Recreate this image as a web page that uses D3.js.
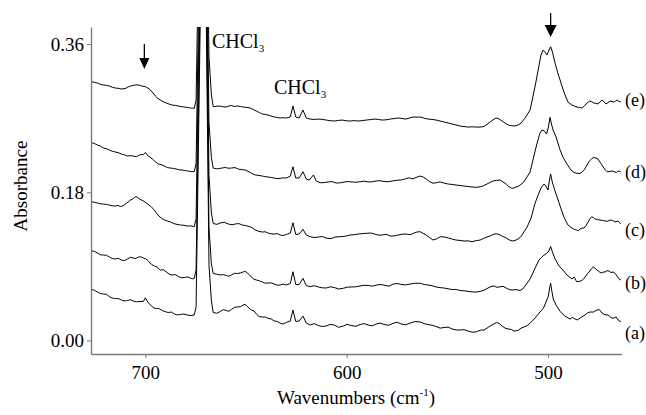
<!DOCTYPE html>
<html><head><meta charset="utf-8">
<script src="https://cdn.jsdelivr.net/npm/d3@7"></script>
<style>
body{margin:0;background:#fff}
svg{display:block}
text{font-family:"Liberation Serif","Times New Roman",Times,serif;fill:#000}
</style>
</head><body><svg id="chart" width="646" height="415"></svg>
<script>
// ---- data: wavenumber (cm-1), absorbance ----
const traceA = [[726.8,0.0619],[723.8,0.0589],[720.8,0.0565],[717.9,0.0534],[714.9,0.0510],[711.9,0.0492],[708.9,0.0486],[706.0,0.0480],[703.0,0.0474],[701.0,0.0474],[700.0,0.0518],[698.8,0.0467],[697.0,0.0419],[694.5,0.0389],[691.6,0.0364],[688.6,0.0340],[685.6,0.0322],[682.6,0.0316],[679.2,0.0310],[675.7,0.0310],[674.8,0.041],[671.6,0.58],[670.6,0.58],[668.4,0.092],[667.2,0.048],[666.3,0.0340],[662.8,0.0352],[659.8,0.0364],[657.3,0.0376],[654.3,0.0407],[651.4,0.0431],[649.4,0.0413],[647.4,0.0370],[644.9,0.0322],[641.9,0.0285],[639.0,0.0267],[636.0,0.0237],[633.0,0.0209],[630.0,0.0219],[628.0,0.0237],[626.7,0.0370],[625.3,0.0231],[623.6,0.0237],[621.7,0.0297],[620.1,0.0212],[618.1,0.0188],[614.1,0.0182],[610.2,0.0176],[606.2,0.0188],[601.7,0.0176],[597.8,0.0182],[593.3,0.0194],[589.3,0.0188],[585.3,0.0200],[581.4,0.0194],[576.9,0.0209],[572.9,0.0200],[568.5,0.0212],[563.5,0.0225],[559.6,0.0194],[555.6,0.0170],[551.6,0.0158],[547.6,0.0140],[543.7,0.0127],[539.7,0.0115],[535.4,0.0107],[531.8,0.0127],[528.8,0.0176],[525.5,0.0219],[522.8,0.0176],[519.8,0.0140],[516.9,0.0115],[514.9,0.0121],[511.9,0.0164],[508.9,0.0209],[506.4,0.0273],[504.0,0.0346],[502.3,0.0391],[501.0,0.0467],[499.9,0.0532],[499.2,0.0637],[498.7,0.0695],[498.1,0.0601],[497.4,0.0504],[496.0,0.0431],[494.0,0.0352],[491.6,0.0297],[489.1,0.0261],[486.6,0.0261],[484.1,0.0273],[481.6,0.0310],[479.2,0.0346],[475.8,0.0370],[473.2,0.0334],[471.2,0.0310],[469.2,0.0289],[467.2,0.0273],[465.2,0.0249],[463.8,0.0228]];
const detailA = [[725.3,0.0610],[722.3,0.0570],[719.3,0.0560],[716.4,0.0515],[713.4,0.0508],[710.4,0.0480],[707.4,0.0495],[704.5,0.0470],[695.7,0.0395],[693.0,0.0385],[690.1,0.0350],[687.1,0.0345],[684.1,0.0310],[680.9,0.0322],[677.4,0.0302],[664.5,0.0330],[661.3,0.0375],[658.5,0.0355],[655.8,0.0402],[652.8,0.0410],[650.4,0.0440],[646.1,0.0360],[643.4,0.0290],[640.4,0.0285],[637.5,0.0262],[634.5,0.0232],[631.5,0.0200],[616.1,0.0205],[612.1,0.0170],[608.2,0.0195],[604.0,0.0160],[599.8,0.0195],[595.5,0.0172],[591.3,0.0205],[587.3,0.0178],[583.3,0.0212],[579.1,0.0185],[574.9,0.0222],[570.7,0.0190],[566.0,0.0230],[561.5,0.0205],[557.6,0.0185],[553.6,0.0150],[549.6,0.0162],[545.6,0.0128],[541.7,0.0132],[537.5,0.0100],[533.6,0.0125],[530.3,0.0150],[524.1,0.0205],[521.3,0.0150],[518.3,0.0135],[513.4,0.0150],[510.4,0.0180],[487.8,0.0280],[485.3,0.0250],[480.4,0.0335],[477.5,0.0345],[474.5,0.0375],[472.2,0.0318],[470.2,0.0312],[468.2,0.0270],[466.2,0.0285]];

const traceB = [[726.8,0.1090],[723.8,0.1062],[720.8,0.1038],[717.9,0.1014],[714.9,0.0990],[711.9,0.0977],[708.9,0.0990],[706.0,0.1002],[703.5,0.1014],[701.0,0.1002],[698.5,0.0965],[695.5,0.0905],[692.6,0.0856],[689.6,0.0832],[686.6,0.0795],[683.6,0.0777],[680.6,0.0765],[677.7,0.0759],[675.7,0.0755],[674.8,0.086],[671.6,0.62],[670.6,0.62],[668.4,0.137],[667.2,0.093],[666.3,0.0814],[662.8,0.0795],[659.8,0.0789],[657.3,0.0795],[654.3,0.0814],[651.4,0.0832],[649.4,0.0820],[647.4,0.0771],[644.9,0.0735],[641.9,0.0710],[639.0,0.0698],[636.0,0.0686],[633.0,0.0674],[630.0,0.0674],[628.0,0.0692],[626.7,0.0835],[625.3,0.0680],[623.6,0.0680],[621.7,0.0755],[620.1,0.0668],[618.1,0.0653],[614.1,0.0650],[610.2,0.0637],[606.2,0.0644],[601.7,0.0634],[597.8,0.0650],[593.3,0.0662],[589.3,0.0668],[585.0,0.0674],[580.9,0.0668],[576.9,0.0686],[572.9,0.0680],[568.5,0.0686],[563.5,0.0695],[559.6,0.0674],[555.6,0.0650],[551.6,0.0637],[547.6,0.0619],[543.7,0.0607],[538.7,0.0593],[533.7,0.0595],[529.8,0.0637],[526.8,0.0662],[523.8,0.0653],[520.8,0.0637],[517.8,0.0613],[513.9,0.0607],[511.4,0.0662],[508.9,0.0747],[506.4,0.0880],[504.5,0.0977],[502.5,0.1026],[500.7,0.1059],[499.8,0.1075],[498.7,0.1141],[497.8,0.1075],[496.5,0.0990],[494.5,0.0905],[492.6,0.0856],[490.6,0.0795],[488.1,0.0747],[485.8,0.0714],[483.6,0.0722],[481.6,0.0771],[479.6,0.0832],[477.5,0.0892],[475.7,0.0856],[473.7,0.0820],[471.7,0.0832],[469.7,0.0844],[467.7,0.0832],[465.7,0.0783],[463.8,0.0735]];
const detailB = [[725.3,0.1082],[722.3,0.1040],[719.3,0.1035],[716.4,0.0995],[713.4,0.0998],[710.4,0.0970],[707.4,0.1010],[704.7,0.0995],[702.2,0.1015],[699.7,0.0990],[697.0,0.0925],[694.0,0.0890],[691.1,0.0860],[688.1,0.0805],[685.1,0.0800],[682.1,0.0762],[679.1,0.0772],[676.7,0.0748],[664.5,0.0805],[661.3,0.0800],[658.5,0.0780],[655.8,0.0815],[652.8,0.0820],[650.4,0.0840],[648.4,0.0800],[646.1,0.0745],[643.4,0.0725],[640.4,0.0695],[637.5,0.0700],[634.5,0.0672],[631.5,0.0685],[616.1,0.0665],[612.1,0.0640],[608.2,0.0652],[604.0,0.0625],[599.7,0.0648],[595.5,0.0652],[591.3,0.0670],[587.2,0.0660],[582.9,0.0680],[578.9,0.0660],[574.9,0.0692],[570.7,0.0675],[566.0,0.0695],[561.5,0.0680],[557.6,0.0665],[553.6,0.0642],[549.6,0.0628],[545.6,0.0620],[541.2,0.0602],[536.2,0.0588],[531.8,0.0610],[528.3,0.0655],[525.3,0.0645],[522.3,0.0658],[519.3,0.0620],[515.9,0.0618],[512.6,0.0625],[487.0,0.0770],[484.7,0.0718],[482.6,0.0740],[480.6,0.0805],[478.5,0.0870],[476.6,0.0875],[474.7,0.0838],[472.7,0.0830],[470.7,0.0848],[468.7,0.0825],[466.7,0.0815],[464.8,0.0750]];

const traceC = [[726.8,0.1685],[723.8,0.1670],[720.8,0.1657],[717.9,0.1645],[714.9,0.1633],[712.4,0.1627],[709.9,0.1657],[707.4,0.1706],[705.5,0.1736],[704.0,0.1739],[702.0,0.1706],[699.5,0.1670],[697.0,0.1621],[694.5,0.1548],[692.1,0.1487],[689.1,0.1451],[686.1,0.1421],[682.6,0.1402],[679.2,0.1390],[675.7,0.1382],[674.8,0.148],[671.6,0.66],[670.6,0.66],[668.4,0.200],[667.2,0.155],[666.3,0.1421],[662.8,0.1427],[658.8,0.1415],[655.3,0.1415],[651.9,0.1402],[648.4,0.1384],[645.4,0.1342],[641.9,0.1317],[639.0,0.1305],[636.0,0.1293],[633.0,0.1281],[630.0,0.1287],[628.0,0.1305],[626.7,0.1430],[625.3,0.1287],[623.6,0.1293],[621.7,0.1350],[620.1,0.1281],[618.1,0.1260],[614.1,0.1257],[609.8,0.1241],[605.7,0.1257],[601.7,0.1263],[598.3,0.1281],[594.3,0.1293],[590.0,0.1302],[586.3,0.1293],[582.4,0.1281],[578.4,0.1269],[574.4,0.1281],[570.5,0.1293],[566.5,0.1305],[563.5,0.1321],[560.5,0.1281],[557.1,0.1220],[553.6,0.1260],[549.6,0.1245],[545.7,0.1220],[541.7,0.1208],[537.7,0.1200],[533.7,0.1220],[530.3,0.1257],[526.8,0.1293],[523.8,0.1281],[520.8,0.1245],[517.8,0.1208],[514.9,0.1232],[512.9,0.1281],[510.4,0.1378],[508.4,0.1487],[506.4,0.1670],[504.9,0.1767],[503.5,0.1852],[502.0,0.1900],[501.0,0.1876],[500.0,0.1827],[499.3,0.1949],[498.7,0.2022],[498.0,0.1937],[497.0,0.1852],[495.5,0.1742],[494.0,0.1633],[492.1,0.1500],[490.1,0.1402],[488.1,0.1366],[485.8,0.1342],[484.1,0.1354],[482.1,0.1366],[480.1,0.1439],[478.3,0.1500],[476.7,0.1475],[474.2,0.1463],[471.7,0.1451],[469.2,0.1463],[466.7,0.1439],[465.2,0.1451],[463.8,0.1415]];
const detailC = [[725.3,0.1678],[722.3,0.1660],[719.3,0.1652],[716.4,0.1635],[713.6,0.1640],[711.1,0.1635],[708.6,0.1680],[706.4,0.1715],[704.7,0.1748],[703.0,0.1720],[700.7,0.1690],[698.2,0.1645],[695.7,0.1590],[693.3,0.1512],[690.6,0.1465],[687.6,0.1440],[684.3,0.1410],[680.9,0.1400],[677.4,0.1392],[664.5,0.1410],[660.8,0.1435],[657.0,0.1405],[653.6,0.1420],[650.1,0.1395],[646.9,0.1370],[643.6,0.1325],[640.4,0.1320],[637.5,0.1295],[634.5,0.1298],[631.5,0.1275],[616.1,0.1250],[612.0,0.1262],[607.7,0.1238],[603.7,0.1260],[600.0,0.1270],[596.3,0.1285],[592.1,0.1298],[588.1,0.1305],[584.3,0.1280],[580.4,0.1290],[576.4,0.1270],[572.4,0.1290],[568.5,0.1285],[565.0,0.1318],[562.0,0.1300],[558.8,0.1250],[555.3,0.1235],[551.6,0.1258],[547.6,0.1232],[543.7,0.1215],[539.7,0.1210],[535.7,0.1212],[532.0,0.1240],[528.5,0.1272],[525.3,0.1295],[522.3,0.1262],[519.3,0.1222],[516.3,0.1215],[513.9,0.1250],[487.0,0.1350],[484.9,0.1335],[483.1,0.1365],[481.1,0.1395],[479.2,0.1480],[477.5,0.1495],[475.4,0.1468],[472.9,0.1458],[470.4,0.1448],[467.9,0.1458],[464.5,0.1430]];

const traceD = [[726.8,0.2402],[723.8,0.2374],[720.8,0.2337],[717.9,0.2313],[714.9,0.2289],[711.9,0.2264],[708.9,0.2240],[706.0,0.2240],[703.0,0.2252],[701.0,0.2258],[700.0,0.2283],[699.0,0.2252],[696.5,0.2204],[693.5,0.2143],[690.6,0.2119],[687.6,0.2094],[684.6,0.2082],[681.6,0.2070],[678.7,0.2058],[675.7,0.2052],[674.8,0.215],[671.6,0.70],[670.6,0.70],[668.4,0.265],[667.2,0.222],[666.3,0.2094],[663.3,0.2088],[660.3,0.2101],[657.3,0.2094],[653.8,0.2082],[650.4,0.2070],[647.9,0.2040],[645.4,0.2010],[641.9,0.1997],[639.0,0.1985],[636.0,0.1973],[633.0,0.1969],[630.0,0.1973],[628.0,0.1997],[626.7,0.2110],[625.3,0.1973],[623.6,0.1973],[621.7,0.2050],[620.1,0.1961],[618.6,0.1949],[616.5,0.2010],[615.1,0.1937],[613.1,0.1916],[609.2,0.1925],[605.2,0.1912],[601.2,0.1925],[597.3,0.1925],[593.3,0.1928],[589.3,0.1925],[585.3,0.1937],[581.4,0.1931],[577.4,0.1937],[573.4,0.1949],[570.1,0.1969],[567.5,0.1961],[563.5,0.1997],[560.5,0.1961],[557.1,0.1909],[553.6,0.1925],[549.6,0.1900],[545.7,0.1888],[541.7,0.1876],[537.7,0.1864],[533.7,0.1867],[530.3,0.1900],[527.3,0.1937],[523.8,0.1949],[520.8,0.1900],[518.0,0.1848],[515.9,0.1864],[513.9,0.1888],[511.4,0.1949],[508.9,0.2046],[506.9,0.2252],[505.4,0.2398],[504.0,0.2519],[503.0,0.2556],[501.8,0.2544],[500.7,0.2507],[499.8,0.2592],[499.0,0.2710],[498.3,0.2629],[497.5,0.2556],[496.0,0.2471],[494.0,0.2313],[492.6,0.2228],[490.6,0.2143],[488.6,0.2070],[486.1,0.2034],[484.1,0.2030],[482.1,0.2070],[480.1,0.2155],[478.2,0.2210],[476.2,0.2216],[474.2,0.2167],[472.2,0.2094],[470.7,0.2050],[468.7,0.2058],[466.7,0.2046],[465.2,0.2058],[463.8,0.2046]];
const detailD = [[725.3,0.2392],[722.3,0.2360],[719.3,0.2330],[716.4,0.2298],[713.4,0.2280],[710.4,0.2255],[707.4,0.2245],[704.5,0.2232],[702.0,0.2260],[697.7,0.2225],[695.0,0.2170],[692.0,0.2135],[689.1,0.2100],[686.1,0.2090],[683.1,0.2072],[680.1,0.2062],[677.2,0.2050],[664.8,0.2085],[661.8,0.2095],[658.8,0.2092],[655.5,0.2100],[652.1,0.2075],[649.1,0.2055],[646.6,0.2022],[643.6,0.2005],[640.4,0.1990],[637.5,0.1980],[634.5,0.1965],[631.5,0.1975],[611.1,0.1918],[607.2,0.1930],[603.2,0.1915],[599.2,0.1930],[595.3,0.1922],[591.3,0.1935],[587.3,0.1928],[583.4,0.1940],[579.4,0.1928],[575.4,0.1945],[571.8,0.1955],[568.8,0.1975],[565.5,0.1980],[562.0,0.1985],[558.8,0.1930],[555.3,0.1918],[551.6,0.1912],[547.6,0.1895],[543.7,0.1882],[539.7,0.1870],[535.7,0.1860],[532.0,0.1880],[528.8,0.1920],[525.5,0.1945],[522.3,0.1925],[519.4,0.1868],[516.9,0.1852],[514.9,0.1870],[512.6,0.1910],[487.0,0.2040],[485.1,0.2028],[483.1,0.2045],[481.1,0.2110],[479.2,0.2185],[477.2,0.2222],[475.2,0.2205],[473.2,0.2130],[471.5,0.2070],[469.7,0.2050],[467.7,0.2055],[466.0,0.2040],[464.5,0.2055]];

const traceE = [[726.8,0.3142],[723.8,0.3127],[720.8,0.3102],[717.9,0.3090],[714.9,0.3066],[711.9,0.3054],[709.4,0.3066],[707.4,0.3090],[705.0,0.3102],[702.5,0.3096],[700.0,0.3082],[697.5,0.3042],[695.0,0.2969],[692.6,0.2920],[689.6,0.2884],[686.6,0.2859],[683.6,0.2847],[680.6,0.2835],[677.7,0.2823],[675.7,0.2819],[674.8,0.292],[671.6,0.75],[670.6,0.75],[668.4,0.345],[667.2,0.298],[666.3,0.2839],[662.8,0.2847],[659.8,0.2835],[657.3,0.2853],[654.3,0.2847],[651.4,0.2835],[647.9,0.2823],[644.9,0.2787],[641.9,0.2750],[639.0,0.2738],[636.0,0.2714],[633.0,0.2702],[630.0,0.2702],[628.0,0.2714],[626.7,0.2847],[625.3,0.2714],[623.6,0.2702],[621.7,0.2799],[620.1,0.2702],[618.1,0.2689],[614.1,0.2689],[610.2,0.2677],[606.2,0.2665],[602.2,0.2677],[598.3,0.2665],[594.3,0.2665],[590.3,0.2677],[586.3,0.2689],[582.4,0.2677],[578.4,0.2689],[574.4,0.2702],[570.5,0.2689],[566.5,0.2714],[563.5,0.2714],[559.6,0.2689],[555.6,0.2677],[551.6,0.2653],[547.6,0.2629],[543.7,0.2604],[539.7,0.2592],[535.7,0.2592],[531.8,0.2598],[528.8,0.2653],[525.8,0.2702],[522.8,0.2665],[519.8,0.2617],[516.9,0.2604],[513.9,0.2629],[511.4,0.2702],[508.9,0.2799],[506.4,0.3090],[504.9,0.3284],[503.5,0.3467],[502.5,0.3527],[501.5,0.3503],[500.5,0.3467],[499.5,0.3527],[498.7,0.3567],[497.8,0.3503],[496.5,0.3369],[495.0,0.3236],[494.0,0.3163],[492.1,0.3017],[490.1,0.2896],[488.1,0.2859],[485.6,0.2835],[483.1,0.2823],[481.1,0.2872],[479.2,0.2908],[477.2,0.2884],[475.2,0.2872],[473.2,0.2920],[471.2,0.2872],[469.2,0.2908],[467.2,0.2896],[465.7,0.2920],[463.8,0.2896]];
const detailE = [[725.3,0.3135],[722.3,0.3110],[719.3,0.3098],[716.4,0.3075],[713.4,0.3062],[710.6,0.3058],[708.4,0.3080],[706.2,0.3098],[703.7,0.3105],[701.2,0.3088],[698.7,0.3065],[696.2,0.3005],[693.8,0.2940],[691.1,0.2900],[688.1,0.2870],[685.1,0.2855],[682.1,0.2840],[679.1,0.2830],[676.7,0.2822],[664.5,0.2845],[661.3,0.2838],[658.5,0.2848],[655.8,0.2842],[652.8,0.2842],[649.6,0.2830],[646.4,0.2805],[643.4,0.2768],[640.4,0.2745],[637.5,0.2725],[634.5,0.2708],[631.5,0.2705],[616.1,0.2684],[612.1,0.2685],[608.2,0.2670],[604.2,0.2672],[600.2,0.2668],[596.3,0.2670],[592.3,0.2670],[588.3,0.2682],[584.3,0.2685],[580.4,0.2680],[576.4,0.2695],[572.4,0.2695],[568.5,0.2705],[565.0,0.2712],[561.5,0.2700],[557.6,0.2685],[553.6,0.2665],[549.6,0.2642],[545.7,0.2618],[541.7,0.2598],[537.7,0.2595],[533.7,0.2592],[530.3,0.2625],[527.3,0.2680],[524.3,0.2690],[521.3,0.2640],[518.3,0.2610],[515.4,0.2612],[512.6,0.2665],[487.0,0.2848],[484.4,0.2830],[482.1,0.2845],[480.1,0.2895],[478.2,0.2898],[476.2,0.2880],[474.2,0.2895],[472.2,0.2900],[470.2,0.2888],[468.2,0.2903],[466.5,0.2908],[464.8,0.2905]];

const seriesNames = ["(a)","(b)","(c)","(d)","(e)"];
const labelAbs = [0.009, 0.070, 0.135, 0.205, 0.292];
const yTickValues = [0.00, 0.18, 0.36];
const xTickValues = [700, 600, 500];
const arrowWavenumbers = [700.5, 498.7];
const annotationText = ["CHCl", "CHCl"];
const annotationSub = ["3", "3"];
const annotationWn = [666.9, 636.1];
const annotationAbs = [0.355, 0.2993];

// ---- layout ----
const svg = d3.select("#chart");
const L = 91, R = 621.5, T = 27, B = 354;
const x = d3.scaleLinear().domain([727, 463.5]).range([L, R]);
const y = d3.scaleLinear().domain([-0.0164, 0.3807]).range([B, T]);
const axisColor = "#7a7a7a";
const FONT = '"Liberation Serif","Times New Roman",Times,serif';

svg.append("rect").attr("width",646).attr("height",415).attr("fill","#fff");
svg.append("defs").append("clipPath").attr("id","plotclip")
  .append("rect").attr("x",L).attr("y",T).attr("width",R-L).attr("height",B-T);

const merge = (a,b)=>a.concat(b).sort((p,q)=>q[0]-p[0]);
const traces = [merge(traceA,detailA), merge(traceB,detailB), merge(traceC,detailC), merge(traceD,detailD), merge(traceE,detailE)];
const line = d3.line().x(d=>x(d[0])).y(d=>y(d[1]));
const g = svg.append("g").attr("clip-path","url(#plotclip)");
g.selectAll("path.trace").data(traces).enter().append("path")
  .attr("class","trace").attr("d",line)
  .attr("fill","none").attr("stroke","#000").attr("stroke-width",1)
  .attr("stroke-linejoin","miter");

// axes
const yAxis = d3.axisLeft(y).tickValues(yTickValues).tickFormat(d3.format(".2f"))
  .tickSizeInner(4).tickSizeOuter(0).tickPadding(3);
const gy = svg.append("g").attr("transform",`translate(${L},0)`).call(yAxis);
const xAxis = d3.axisBottom(x).tickValues(xTickValues).tickFormat(d3.format("d"))
  .tickSizeInner(4).tickSizeOuter(0).tickPadding(8);
const gx = svg.append("g").attr("transform",`translate(0,${B})`).call(xAxis);
[gx, gy].forEach(a=>{
  a.select(".domain").attr("stroke",axisColor).attr("stroke-width",1.4);
  a.selectAll(".tick line").attr("stroke",axisColor).attr("stroke-width",1);
  a.selectAll(".tick text").attr("font-size",19).attr("fill","#000").attr("font-family",FONT);
});

// axis titles
svg.append("text").attr("transform","translate(27,186) rotate(-90)")
  .attr("text-anchor","middle").attr("font-size",19).text("Absorbance");
const xt = svg.append("text").attr("x",356).attr("y",404).attr("text-anchor","middle").attr("font-size",19);
xt.append("tspan").text("Wavenumbers (cm");
xt.append("tspan").attr("font-size",11).attr("dy",-8).text("-1");
xt.append("tspan").attr("dy",8).text(")");

// series labels
svg.selectAll("text.slabel").data(seriesNames).enter().append("text")
  .attr("class","slabel").attr("x",R+3.5).attr("y",(d,i)=>y(labelAbs[i]))
  .attr("dy","0.35em").attr("font-size",18).text(d=>d);

// annotations
annotationText.forEach((t,i)=>{
  const a = svg.append("text").attr("x",x(annotationWn[i])).attr("y",y(annotationAbs[i])).attr("font-size",20);
  a.append("tspan").text(t);
  a.append("tspan").attr("font-size",11).attr("dy",4).text(annotationSub[i]);
});

// arrows
const arrowTop = [44, 13], arrowBottom = [69, 37], headLen = [11, 12], headW = [10, 12];
arrowWavenumbers.forEach((wn,i)=>{
  const ax = x(wn);
  svg.append("line").attr("x1",ax).attr("x2",ax).attr("y1",arrowTop[i]).attr("y2",arrowBottom[i]-headLen[i]+1)
    .attr("stroke","#000").attr("stroke-width",1.3);
  svg.append("path").attr("d",`M${ax-headW[i]/2},${arrowBottom[i]-headLen[i]} L${ax+headW[i]/2},${arrowBottom[i]-headLen[i]} L${ax},${arrowBottom[i]} Z`)
    .attr("fill","#000");
});
</script></body></html>
